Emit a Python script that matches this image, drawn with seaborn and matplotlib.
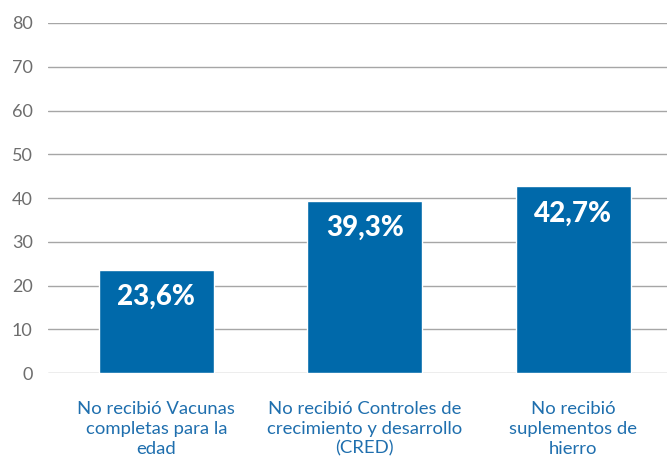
import pandas as pd
import matplotlib.pyplot as plt
import seaborn as sns

sns.set_style("white")
plt.rcParams['font.family'] = ['Lato', 'DejaVu Sans']

# data
categories = ["No recibió Vacunas\ncompletas para la\nedad",
              "No recibió Controles de\ncrecimiento y desarrollo\n(CRED)",
              "No recibió\nsuplementos de\nhierro"]
values = [23.6, 39.3, 42.7]
value_labels = ["23,6%", "39,3%", "42,7%"]

df = pd.DataFrame({"cat": categories, "val": values})

fig = plt.figure(figsize=(6.67, 4.59), dpi=100)
ax = fig.add_axes([0.072, 0.187, 0.928, 0.763])

sns.barplot(x="cat", y="val", data=df, color="#0069AA", saturation=1,
            width=0.55, ax=ax)

ax.set_ylim(0, 80)
ax.set_xlim(-0.52, 2.45)
ax.set_yticks(range(0, 81, 10))
ax.yaxis.grid(True, color="#a6a6a6", linewidth=1)
ax.set_axisbelow(True)
for s in ax.spines.values():
    s.set_visible(False)

ax.set_xlabel("")
ax.set_ylabel("")
ax.tick_params(axis="y", length=0, pad=11, labelsize=13, labelcolor="#6d6d6d")
ax.tick_params(axis="x", length=0, pad=20, labelsize=13.3, labelcolor="#1f6fae")
for t in ax.get_xticklabels():
    t.set_linespacing(1.3)

# value labels inside bars
for i, v in enumerate(values):
    ax.annotate(value_labels[i], (i, v), xytext=(0, -19.5), textcoords="offset points",
                ha="center", va="center", color="white", fontsize=20,
                fontweight="black")

fig.savefig("out.png", dpi=100)
